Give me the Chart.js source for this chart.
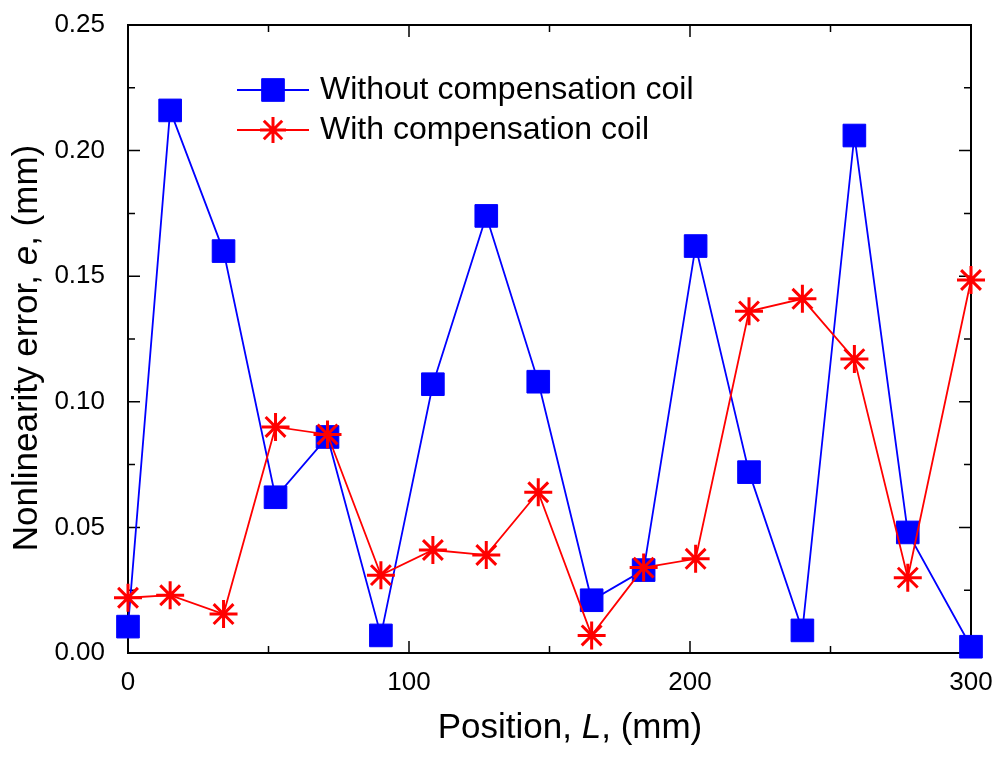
<!DOCTYPE html>
<html lang="en">
<head>
<meta charset="UTF-8">
<title>Nonlinearity error vs position</title>
<script src="https://cdn.jsdelivr.net/npm/chart.js"></script>
<style>
  html, body { margin: 0; padding: 0; background: #fff; }
  #wrap { width: 1000px; height: 757px; }
</style>
</head>
<body>
<div id="wrap"><canvas id="chart" width="1000" height="757"></canvas></div>
<script>
// Positions along the coil (mm)
const positions = [0, 15, 34, 52.5, 71, 90, 108.5, 127.5, 146, 165, 183.5, 202, 221, 240, 258.5, 277.5, 300];
// Nonlinearity error (mm)
const withoutCoil = [0.0105, 0.216, 0.160, 0.062, 0.086, 0.007, 0.107, 0.174, 0.108, 0.021, 0.033, 0.162, 0.072, 0.009, 0.206, 0.048, 0.0025];
const withCoil = [0.022, 0.023, 0.0155, 0.090, 0.087, 0.031, 0.041, 0.039, 0.064, 0.007, 0.034, 0.0375, 0.136, 0.141, 0.117, 0.030, 0.1485];
const seriesNames = ['Without compensation coil', 'With compensation coil'];
const xTicks = [0, 100, 200, 300];
const yTicks = [0, 0.05, 0.10, 0.15, 0.20, 0.25];

const FONT = 'Arial, "Liberation Sans", sans-serif';

function toPoints(ys) {
  return positions.map((x, i) => ({ x: x, y: ys[i] }));
}

// frame, inward ticks on all four sides, axis titles and legend
const decor = {
  id: 'decor',
  beforeDatasetsDraw(chart) {
    const { ctx, chartArea: a, scales } = chart;
    const xs = scales.x, ys = scales.y;
    ctx.save();
    ctx.strokeStyle = '#000';
    ctx.lineWidth = 2;
    ctx.strokeRect(a.left, a.top, a.right - a.left, a.bottom - a.top);

    ctx.lineWidth = 1.5;
    ctx.beginPath();
    for (let v = 0; v <= 300; v += 50) {
      const px = xs.getPixelForValue(v);
      const len = v % 100 === 0 ? 12 : 7;
      ctx.moveTo(px, a.bottom); ctx.lineTo(px, a.bottom - len);
      ctx.moveTo(px, a.top); ctx.lineTo(px, a.top + len);
    }
    for (let k = 0; k <= 10; k++) {
      const py = ys.getPixelForValue(k * 0.025);
      const len = k % 2 === 0 ? 12 : 7;
      ctx.moveTo(a.left, py); ctx.lineTo(a.left + len, py);
      ctx.moveTo(a.right, py); ctx.lineTo(a.right - len, py);
    }
    ctx.stroke();

    // x title
    ctx.fillStyle = '#000';
    ctx.textBaseline = 'middle';
    drawMixed(ctx, [['Position, ', false], ['L', true], [', (mm)', false]], 570, 728, 35);

    // y title (rotated)
    ctx.save();
    ctx.translate(27, 348);
    ctx.rotate(-Math.PI / 2);
    drawMixed(ctx, [['Nonlinearity error, ', false], ['e', true], [', (mm)', false]], 0, 0, 35);
    ctx.restore();

    // legend
    const items = [
      { y: 90, color: '#0000ff', style: 'rect', r: 16, bw: 1 },
      { y: 130, color: '#ff0000', style: 'star', r: 13, bw: 3 }
    ];
    items.forEach((it, i) => {
      ctx.strokeStyle = it.color;
      ctx.lineWidth = 2;
      ctx.beginPath();
      ctx.moveTo(237, it.y); ctx.lineTo(309, it.y);
      ctx.stroke();
      ctx.fillStyle = it.color;
      ctx.lineWidth = it.bw;
      Chart.helpers.drawPoint(ctx, { pointStyle: it.style, radius: it.r, rotation: 0, borderWidth: it.bw }, 273, it.y);
      ctx.fillStyle = '#000';
      ctx.font = '32px ' + FONT;
      ctx.textAlign = 'left';
      ctx.fillText(seriesNames[i], 320, it.y);
    });
    ctx.restore();
  }
};

function drawMixed(ctx, parts, cx, cy, size) {
  let total = 0;
  parts.forEach(p => {
    ctx.font = (p[1] ? 'italic ' : '') + size + 'px ' + FONT;
    total += ctx.measureText(p[0]).width;
  });
  let x = cx - total / 2;
  ctx.textAlign = 'left';
  parts.forEach(p => {
    ctx.font = (p[1] ? 'italic ' : '') + size + 'px ' + FONT;
    ctx.fillText(p[0], x, cy);
    x += ctx.measureText(p[0]).width;
  });
}

new Chart(document.getElementById('chart'), {
  type: 'scatter',
  data: {
    datasets: [{
      label: seriesNames[0],
      data: toPoints(withoutCoil),
      showLine: true,
      clip: false,
      borderColor: '#0000ff',
      backgroundColor: '#0000ff',
      borderWidth: 1.8,
      pointStyle: 'rect',
      pointRadius: 16,
      pointBorderWidth: 1,
      order: 2
    }, {
      label: seriesNames[1],
      data: toPoints(withCoil),
      showLine: true,
      clip: false,
      borderColor: '#ff0000',
      backgroundColor: '#ff0000',
      borderWidth: 1.8,
      pointStyle: 'star',
      pointRadius: 14,
      pointBorderWidth: 3,
      order: 1
    }]
  },
  options: {
    responsive: false,
    animation: false,
    devicePixelRatio: 1,
    layout: { padding: { left: 0, top: 25, right: 29, bottom: 0 } },
    plugins: { legend: { display: false }, tooltip: { enabled: false } },
    scales: {
      x: {
        type: 'linear',
        min: 0, max: 300,
        afterFit: s => { s.height = 104; s.paddingLeft = 0; s.paddingRight = 0; },
        afterBuildTicks: s => { s.ticks = xTicks.map(v => ({ value: v })); },
        grid: { display: false },
        border: { display: false },
        ticks: { color: '#000', font: { family: FONT, size: 26 }, padding: 6, maxRotation: 0 }
      },
      y: {
        min: 0, max: 0.25,
        afterFit: s => { s.width = 128; s.paddingTop = 0; s.paddingBottom = 0; },
        afterBuildTicks: s => { s.ticks = yTicks.map(v => ({ value: v })); },
        grid: { display: false },
        border: { display: false },
        ticks: { color: '#000', font: { family: FONT, size: 26 }, padding: 15, callback: v => v.toFixed(2) }
      }
    }
  },
  plugins: [decor]
});
</script>
</body>
</html>
